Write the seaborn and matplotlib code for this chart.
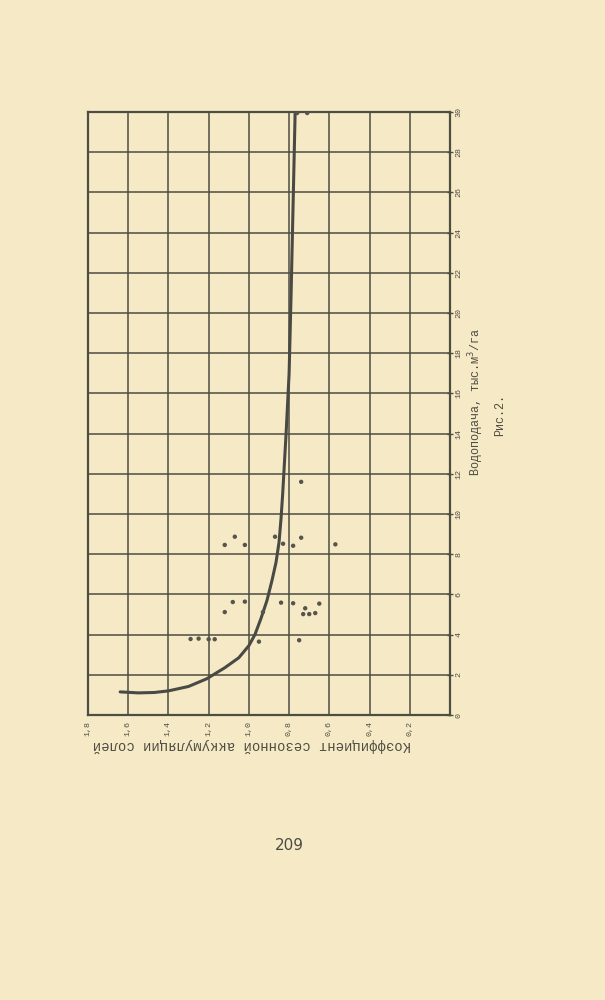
import matplotlib
matplotlib.use("Agg")
import matplotlib.pyplot as plt
import seaborn as sns
import pandas as pd

# Curve (coefficient of seasonal salt accumulation vs. water supply)
curve_coef = [1.64, 1.55, 1.47, 1.40, 1.30, 1.21, 1.12, 1.05, 1.00, 0.97, 0.94,
              0.91, 0.885, 0.865, 0.85, 0.84, 0.832, 0.815, 0.80, 0.79, 0.78, 0.77]
curve_water = [1.15, 1.10, 1.12, 1.20, 1.42, 1.80, 2.35, 2.85, 3.45, 4.00, 4.80,
               5.70, 6.70, 7.60, 8.60, 9.80, 11.0, 14.0, 17.0, 21.0, 25.5, 30.0]

# Observed points
pt_coef = [1.12, 1.07, 1.02, 0.87, 0.83, 0.78, 0.74, 0.57,
           1.08, 1.02, 1.12, 0.93, 0.84, 0.78, 0.72, 0.65, 0.73, 0.70, 0.67,
           1.29, 1.25, 1.20, 1.17, 0.95, 0.75,
           0.74, 0.76, 0.71]
pt_water = [8.46, 8.87, 8.46, 8.87, 8.52, 8.42, 8.82, 8.49,
            5.62, 5.64, 5.12, 5.12, 5.59, 5.56, 5.31, 5.54, 5.02, 5.02, 5.07,
            3.78, 3.80, 3.77, 3.77, 3.65, 3.72,
            11.6, 29.95, 29.95]

x_ticks = [1.8, 1.6, 1.4, 1.2, 1.0, 0.8, 0.6, 0.4, 0.2]
x_tick_labels = ["1,8", "1,6", "1,4", "1,2", "1,0", "0,8", "0,6", "0,4", "0,2"]
y_ticks = list(range(0, 31, 2))
y_tick_labels = [str(v) for v in y_ticks]

x_label = "Коэффициент сезонной аккумуляции солей"
y_label = "Водоподача, тыс.м$^3$/га"
fig_caption = "Рис.2."
page_number = "209"

paper = "#f6eac6"
ink = "#4d4d42"

sns.set_theme(style="white")
plt.rcParams["font.family"] = ["Liberation Mono", "DejaVu Sans"]

fig = plt.figure(figsize=(6.05, 10.0), dpi=100, facecolor=paper)
ax = fig.add_axes([88 / 605, 285 / 1000, 362 / 605, 603 / 1000])
ax.set_facecolor(paper)

curve_df = pd.DataFrame({"coef": curve_coef, "water": curve_water})
pts_df = pd.DataFrame({"coef": pt_coef, "water": pt_water})

sns.lineplot(data=curve_df, x="coef", y="water", sort=False, estimator=None,
             color="#4a4a44", linewidth=2.2, ax=ax)
sns.scatterplot(data=pts_df, x="coef", y="water", color="#55554c", s=10,
                edgecolor="none", ax=ax, zorder=5)

ax.set_xlim(1.8, 0)
ax.set_ylim(0, 30)
ax.set_xticks(x_ticks)
ax.set_xticklabels(x_tick_labels, rotation=90, fontsize=6, color=ink)
ax.set_yticks(y_ticks)
ax.set_yticklabels(y_tick_labels, rotation=90, fontsize=6, color=ink, va="center")
ax.yaxis.tick_right()
ax.tick_params(axis="both", direction="inout", length=4, width=1, color=ink, pad=2)
ax.grid(True, color=ink, linewidth=1.1)
ax.set_axisbelow(True)
for sp in ax.spines.values():
    sp.set_color(ink)
    sp.set_linewidth(1.6)
ax.set_xlabel("")
ax.set_ylabel("")

fig.text(0.417, 0.255, x_label, rotation=180, ha="center", va="center",
         fontsize=10, color=ink)
fig.text(476 / 605, 0.598, y_label, rotation=90, ha="center", va="center",
         fontsize=8.5, color=ink)
fig.text(500 / 605, 0.585, fig_caption, rotation=90, ha="center", va="center",
         fontsize=8.5, color=ink)
fig.text(0.479, 0.155, page_number, ha="center", va="center", fontsize=11,
         color="#4a4a44", family=["DejaVu Sans"])

fig.savefig("out.png", dpi=100, facecolor=paper)
